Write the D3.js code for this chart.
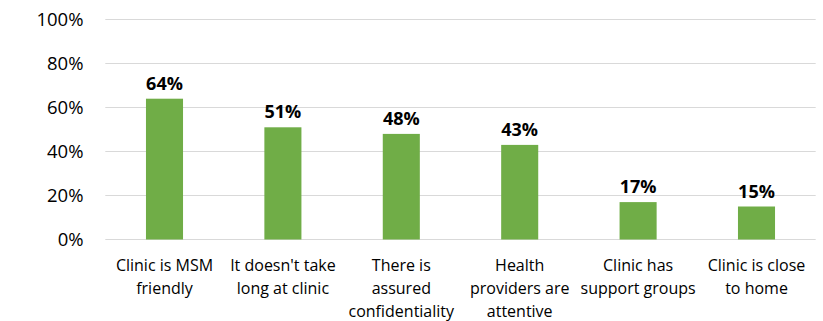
<!DOCTYPE html>
<html>
<head>
<meta charset="utf-8">
<script src="https://cdn.jsdelivr.net/npm/d3@7"></script>
<style>
  html, body { margin: 0; padding: 0; background: #fff; }
  svg { display: block; font-family: "Open Sans", Lato, sans-serif; }
</style>
</head>
<body>
<svg id="chart" width="823" height="321"></svg>
<script>
// Reasons for choosing a clinic (% of respondents)
const categories = [
  "Clinic is MSM friendly",
  "It doesn't take long at clinic",
  "There is assured confidentiality",
  "Health providers are attentive",
  "Clinic has support groups",
  "Clinic is close to home"
];
const categoryLines = [
  ["Clinic is MSM", "friendly"],
  ["It doesn't take", "long at clinic"],
  ["There is", "assured", "confidentiality"],
  ["Health", "providers are", "attentive"],
  ["Clinic has", "support groups"],
  ["Clinic is close", "to home"]
];
const values = [64, 51, 48, 43, 17, 15];
const yTicks = [0, 20, 40, 60, 80, 100];

const svg = d3.select("#chart");
const margin = { left: 105.3, right: 7.3, top: 19.5, bottom: 81.5 };
const W = 823, H = 321;

const x = d3.scaleBand()
  .domain(categories)
  .range([margin.left, W - margin.right])
  .paddingInner(0.687)
  .paddingOuter(0.3435);

const y = d3.scaleLinear().domain([0, 100]).range([H - margin.bottom, margin.top]);

// gridlines
svg.append("g")
  .selectAll("line")
  .data(yTicks)
  .join("line")
  .attr("x1", margin.left)
  .attr("x2", W - margin.right)
  .attr("y1", d => y(d))
  .attr("y2", d => y(d))
  .attr("stroke", "#d9d9d9")
  .attr("stroke-width", 1);

// y axis labels
const yAxis = d3.axisLeft(y).tickValues(yTicks).tickFormat(d => d + "%").tickSize(0).tickPadding(0);
const gy = svg.append("g").attr("transform", `translate(83.5,0)`).call(yAxis);
gy.select(".domain").remove();
gy.selectAll("text")
  .attr("font-family", "'Open Sans', sans-serif")
  .attr("font-size", 18.5)
  .attr("fill", "#000")
  .attr("dy", "0.35em");

// bars
svg.append("g")
  .selectAll("rect")
  .data(values)
  .join("rect")
  .attr("x", (d, i) => x(categories[i]))
  .attr("width", x.bandwidth())
  .attr("y", d => y(d))
  .attr("height", d => y(0) - y(d))
  .attr("fill", "#70ad47");

// value labels
svg.append("g")
  .selectAll("text")
  .data(values)
  .join("text")
  .attr("x", (d, i) => x(categories[i]) + x.bandwidth() / 2)
  .attr("y", d => y(d) - 9)
  .attr("text-anchor", "middle")
  .attr("font-size", 18)
  .attr("font-weight", "bold")
  .attr("fill", "#000")
  .text(d => d + "%");

// category labels
const gx = svg.append("g");
categoryLines.forEach((lines, i) => {
  const cx = x(categories[i]) + x.bandwidth() / 2;
  const t = gx.append("text")
    .attr("x", cx)
    .attr("y", 270.5)
    .attr("text-anchor", "middle")
    .attr("font-size", 16)
    .attr("fill", "#000");
  lines.forEach((ln, j) => {
    t.append("tspan")
      .attr("x", cx)
      .attr("dy", j === 0 ? 0 : 23)
      .text(ln);
  });
});
</script>
</body>
</html>
